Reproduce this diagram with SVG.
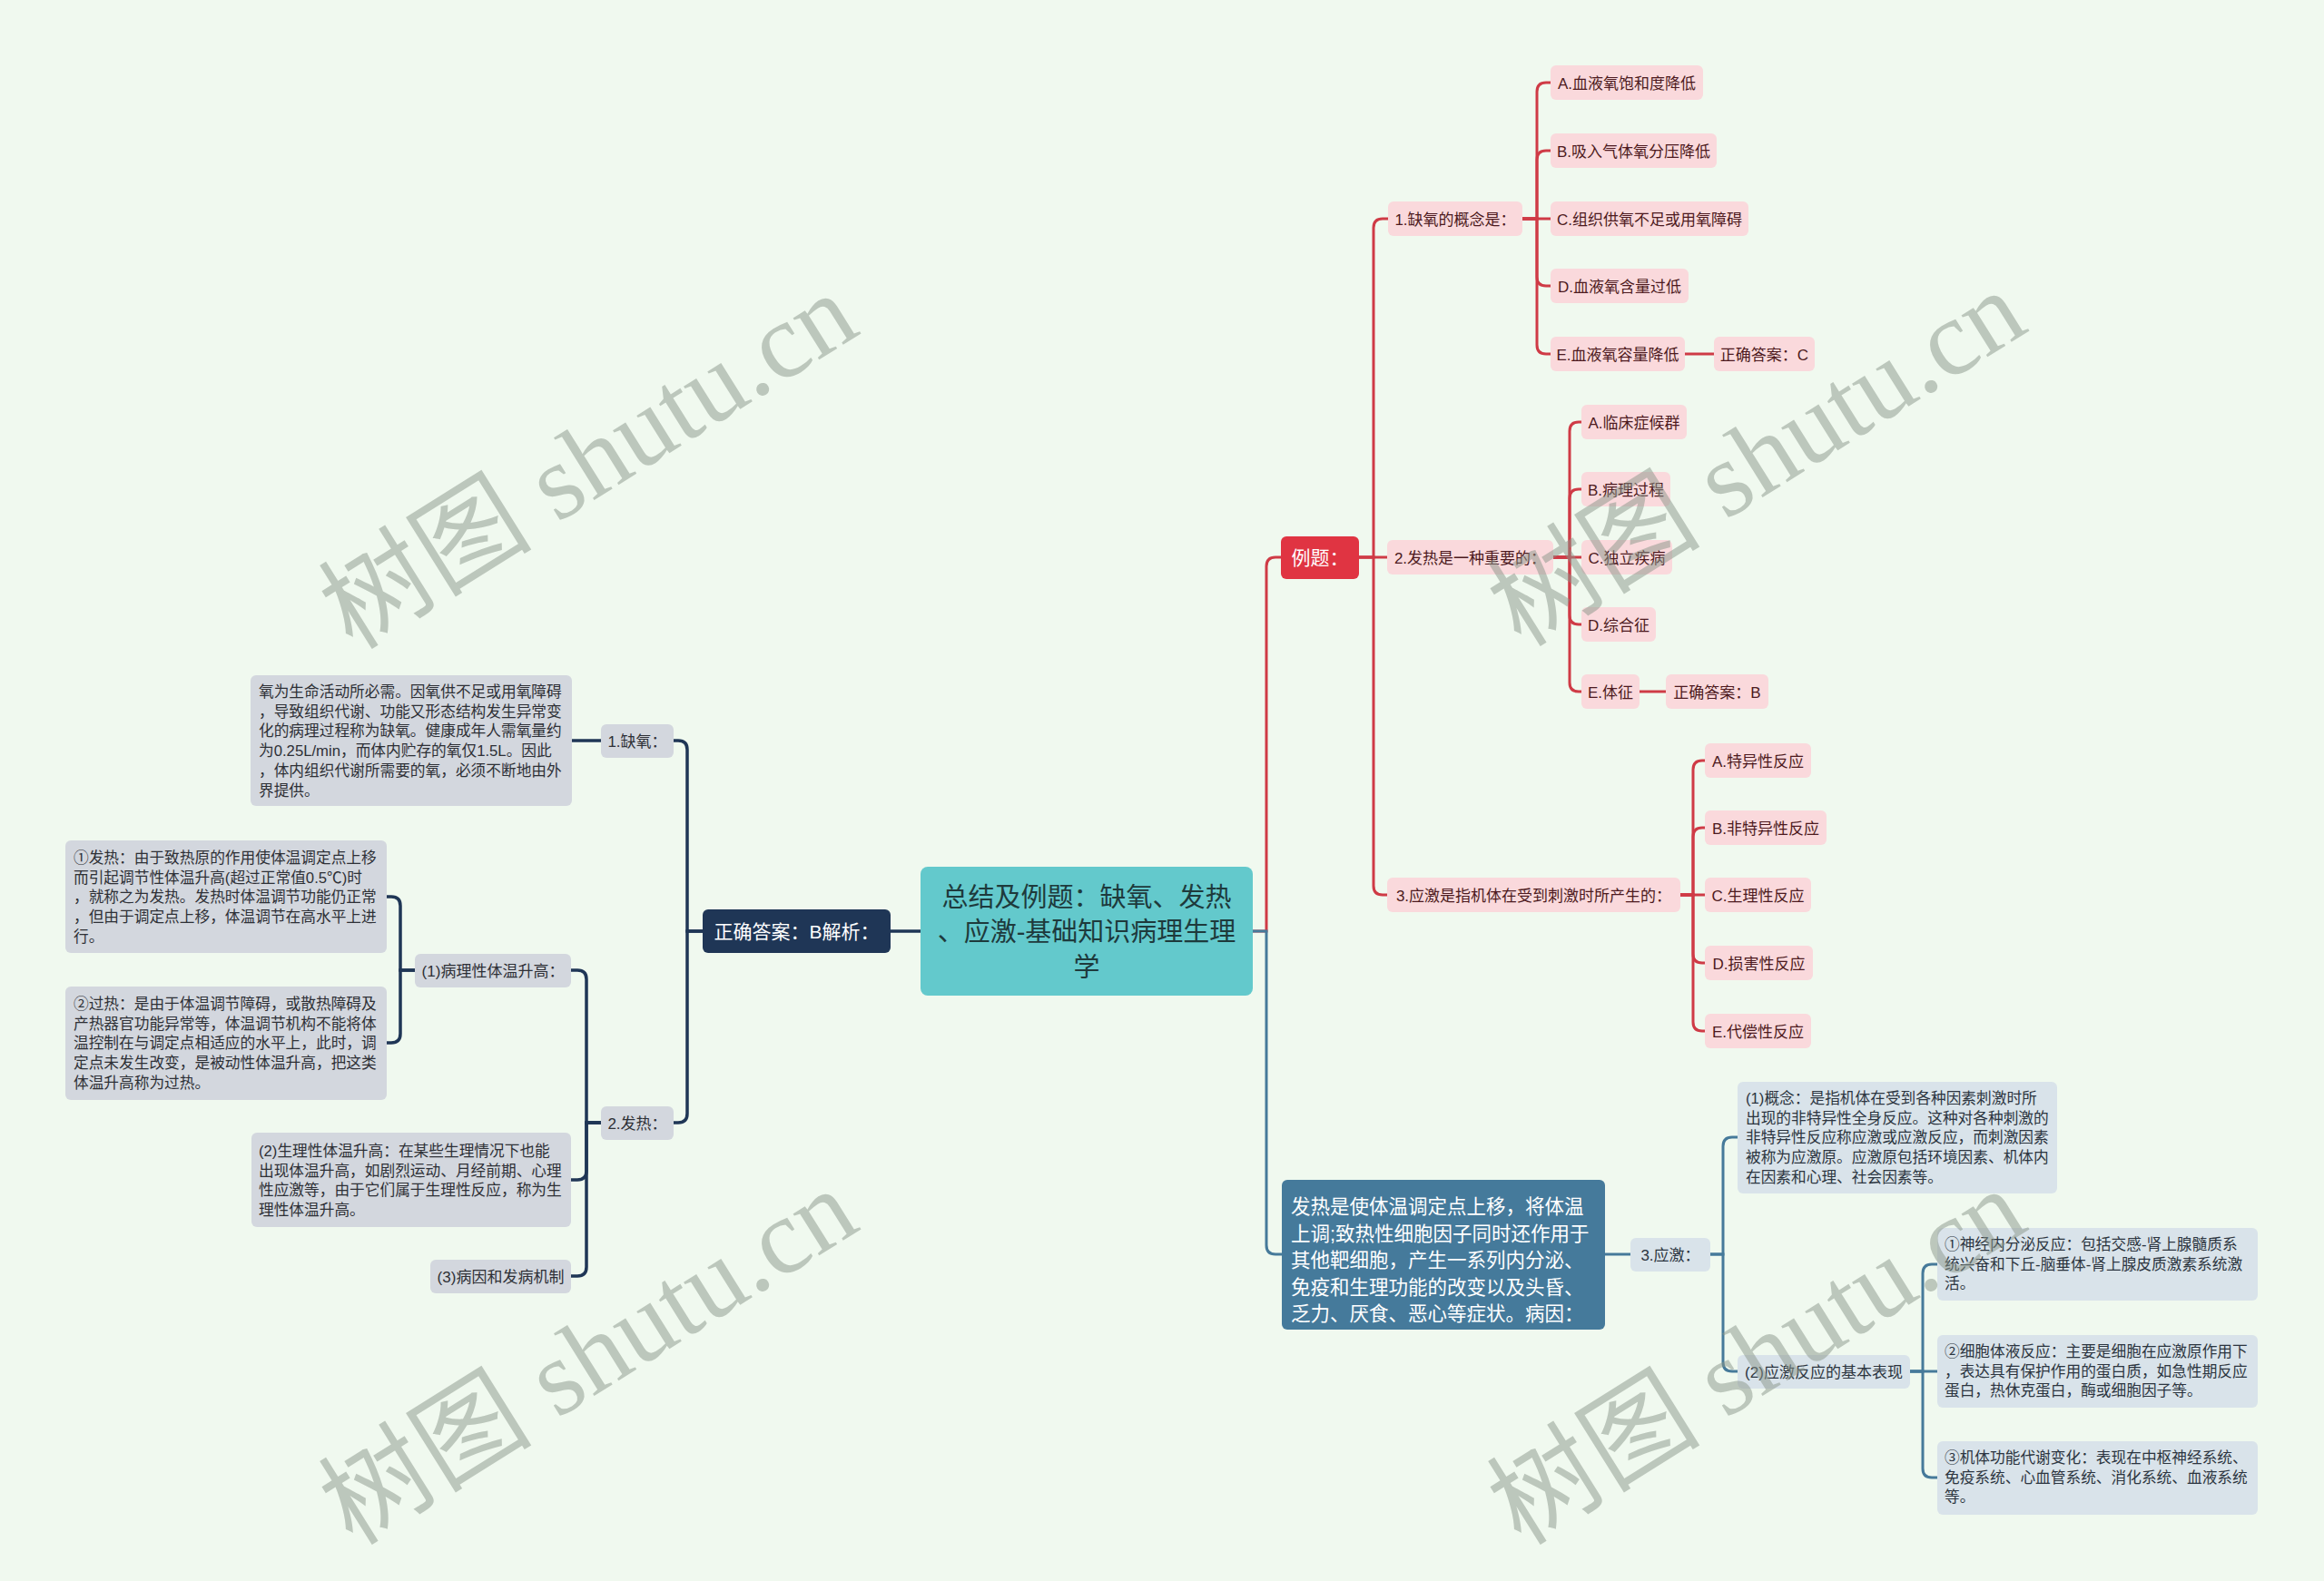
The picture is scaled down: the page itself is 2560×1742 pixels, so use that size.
<svg xmlns="http://www.w3.org/2000/svg" width="2560" height="1742" viewBox="0 0 2560 1742">
<style>
text{font-family:"Liberation Sans","Noto Sans CJK SC",sans-serif;}
.s{font-size:17px;text-anchor:middle;}
.m{font-size:16.7px;}
.pk rect{fill:#fad9dc;}
.pk text{fill:#4d1a20;}
.gy rect{fill:#d3d7de;}
.gy text{fill:#2e3036;}
.lb rect{fill:#d9e3ea;}
.lb text{fill:#2c3540;}
.cr{fill:none;stroke:#cf3b46;stroke-width:3;}
.cn{fill:none;stroke:#1f3656;stroke-width:3.5;}
.cb{fill:none;stroke:#467a9a;stroke-width:3;}
.wm{font-family:"Liberation Serif","Noto Sans CJK SC",serif;font-size:118px;fill:#8a968a;opacity:0.5;text-anchor:middle;}
</style>
<rect width="2560" height="1742" fill="#f0f9ef"/>

<g id="connectors">
<path class="cn" d="M1014,1026 H981"/>
<path class="cn" d="M774,1026 H757 V826 Q757,816 747,816 H742"/>
<path class="cn" d="M774,1026 H757 V1227 Q757,1237 747,1237 H742"/>
<path class="cn" d="M662,816 H630"/>
<path class="cn" d="M662,1237 H646 V1079 Q646,1069 636,1069 H629"/>
<path class="cn" d="M662,1237 H646 V1290 Q646,1300 636,1300 H629"/>
<path class="cn" d="M662,1237 H646 V1396 Q646,1406 636,1406 H629"/>
<path class="cn" d="M457,1069 H441 V998 Q441,988 431,988 H426"/>
<path class="cn" d="M457,1069 H441 V1139 Q441,1149 431,1149 H426"/>

<path class="cr" d="M1380,1026 H1395 V624 Q1395,614 1405,614 H1411"/>
<path class="cb" d="M1380,1026 H1395 V1372 Q1395,1382 1405,1382 H1412"/>

<path class="cr" d="M1497,614 H1513 V251 Q1513,241 1523,241 H1529"/>
<path class="cr" d="M1497,614 H1528"/>
<path class="cr" d="M1497,614 H1513 V976 Q1513,986 1523,986 H1528"/>

<path class="cr" d="M1677,241 H1693 V101 Q1693,91 1703,91 H1708"/>
<path class="cr" d="M1677,241 H1693 V176 Q1693,166 1703,166 H1708"/>
<path class="cr" d="M1677,241 H1708"/>
<path class="cr" d="M1677,241 H1693 V305 Q1693,315 1703,315 H1708"/>
<path class="cr" d="M1677,241 H1693 V380 Q1693,390 1703,390 H1708"/>
<path class="cr" d="M1856,390 H1888"/>

<path class="cr" d="M1711,614 H1729 V475 Q1729,465 1739,465 H1742"/>
<path class="cr" d="M1711,614 H1729 V549 Q1729,539 1739,539 H1742"/>
<path class="cr" d="M1711,614 H1742"/>
<path class="cr" d="M1711,614 H1729 V678 Q1729,688 1739,688 H1742"/>
<path class="cr" d="M1711,614 H1729 V752 Q1729,762 1739,762 H1742"/>
<path class="cr" d="M1806,762 H1835"/>

<path class="cr" d="M1851,986 H1865 V848 Q1865,838 1875,838 H1878"/>
<path class="cr" d="M1851,986 H1865 V922 Q1865,912 1875,912 H1878"/>
<path class="cr" d="M1851,986 H1878"/>
<path class="cr" d="M1851,986 H1865 V1051 Q1865,1061 1875,1061 H1878"/>
<path class="cr" d="M1851,986 H1865 V1126 Q1865,1136 1875,1136 H1878"/>

<path class="cb" d="M1768,1382 H1796"/>
<path class="cb" d="M1884,1382 H1898 V1263 Q1898,1253 1908,1253 H1914"/>
<path class="cb" d="M1884,1382 H1898 V1501 Q1898,1511 1908,1511 H1914"/>
<path class="cb" d="M2104,1511 H2118 V1403 Q2118,1393 2128,1393 H2134"/>
<path class="cb" d="M2104,1511 H2134"/>
<path class="cb" d="M2104,1511 H2118 V1618 Q2118,1628 2128,1628 H2134"/>
</g>

<g id="root">
<rect x="1014" y="955" width="366" height="142" rx="8" fill="#63c9cc"/>
<text x="1197" text-anchor="middle" font-size="29" fill="#1e3a3c"><tspan x="1197" y="998.5">总结及例题：缺氧、发热</tspan><tspan x="1197" y="1037">、应激-基础知识病理生理</tspan><tspan x="1197" y="1075.5">学</tspan></text>
</g>

<g id="n-answer-left">
<rect x="774" y="1002" width="207" height="48" rx="6" fill="#1f3656"/>
<text x="877.5" y="1033.5" text-anchor="middle" font-size="21" fill="#ffffff">正确答案：B解析：</text>
</g>
<g id="n-queyang" class="gy">
<rect x="662" y="798" width="80" height="37" rx="6"/>
<text class="s" x="702" y="822.5">1.缺氧：</text>
</g>
<g id="n-queyang-detail" class="gy">
<rect x="276" y="744" width="354" height="144" rx="6"/>
<text class="m" x="285"><tspan x="285" y="768">氧为生命活动所必需。因氧供不足或用氧障碍</tspan><tspan x="285" y="789.7">，导致组织代谢、功能又形态结构发生异常变</tspan><tspan x="285" y="811.4">化的病理过程称为缺氧。健康成年人需氧量约</tspan><tspan x="285" y="833.1">为0.25L/min，而体内贮存的氧仅1.5L。因此</tspan><tspan x="285" y="854.8">，体内组织代谢所需要的氧，必须不断地由外</tspan><tspan x="285" y="876.5">界提供。</tspan></text>
</g>
<g id="n-fare" class="gy">
<rect x="662" y="1219" width="80" height="37" rx="6"/>
<text class="s" x="702" y="1243.5">2.发热：</text>
</g>
<g id="n-bingli" class="gy">
<rect x="457" y="1051" width="172" height="37" rx="6"/>
<text class="s" x="543" y="1075.5">(1)病理性体温升高：</text>
</g>
<g id="n-fare1" class="gy">
<rect x="72" y="926" width="354" height="124" rx="6"/>
<text class="m" x="81"><tspan x="81" y="951">①发热：由于致热原的作用使体温调定点上移</tspan><tspan x="81" y="972.7">而引起调节性体温升高(超过正常值0.5℃)时</tspan><tspan x="81" y="994.4">，就称之为发热。发热时体温调节功能仍正常</tspan><tspan x="81" y="1016.1">，但由于调定点上移，体温调节在高水平上进</tspan><tspan x="81" y="1037.8">行。</tspan></text>
</g>
<g id="n-guore" class="gy">
<rect x="72" y="1087" width="354" height="125" rx="6"/>
<text class="m" x="81"><tspan x="81" y="1112">②过热：是由于体温调节障碍，或散热障碍及</tspan><tspan x="81" y="1133.7">产热器官功能异常等，体温调节机构不能将体</tspan><tspan x="81" y="1155.4">温控制在与调定点相适应的水平上，此时，调</tspan><tspan x="81" y="1177.1">定点未发生改变，是被动性体温升高，把这类</tspan><tspan x="81" y="1198.8">体温升高称为过热。</tspan></text>
</g>
<g id="n-shengli" class="gy">
<rect x="277" y="1248" width="352" height="104" rx="6"/>
<text class="m" x="285"><tspan x="285" y="1274">(2)生理性体温升高：在某些生理情况下也能</tspan><tspan x="285" y="1295.7">出现体温升高，如剧烈运动、月经前期、心理</tspan><tspan x="285" y="1317.4">性应激等，由于它们属于生理性反应，称为生</tspan><tspan x="285" y="1339.1">理性体温升高。</tspan></text>
</g>
<g id="n-bingyin" class="gy">
<rect x="474" y="1388" width="155" height="37" rx="6"/>
<text class="s" x="551.5" y="1412.5">(3)病因和发病机制</text>
</g>

<g id="n-liti">
<rect x="1411" y="591" width="86" height="47" rx="6" fill="#e03442"/>
<text x="1454" y="622" text-anchor="middle" font-size="21" fill="#ffffff">例题：</text>
</g>
<g id="n-q1" class="pk">
<rect x="1529" y="222" width="148" height="38" rx="6"/>
<text class="s" x="1603" y="247.5">1.缺氧的概念是：</text>
</g>
<g id="n-q1a" class="pk"><rect x="1708" y="72" width="168" height="38" rx="6"/><text class="s" x="1792" y="97.5">A.血液氧饱和度降低</text></g>
<g id="n-q1b" class="pk"><rect x="1708" y="147" width="183" height="38" rx="6"/><text class="s" x="1799.5" y="172.5">B.吸入气体氧分压降低</text></g>
<g id="n-q1c" class="pk"><rect x="1708" y="222" width="218" height="38" rx="6"/><text class="s" x="1817" y="247.5">C.组织供氧不足或用氧障碍</text></g>
<g id="n-q1d" class="pk"><rect x="1708" y="296" width="152" height="38" rx="6"/><text class="s" x="1784" y="321.5">D.血液氧含量过低</text></g>
<g id="n-q1e" class="pk"><rect x="1708" y="371" width="148" height="38" rx="6"/><text class="s" x="1782" y="396.5">E.血液氧容量降低</text></g>
<g id="n-q1ans" class="pk"><rect x="1888" y="371" width="111" height="38" rx="6"/><text class="s" x="1943.5" y="396.5">正确答案：C</text></g>

<g id="n-q2" class="pk">
<rect x="1528" y="595" width="183" height="38" rx="6"/>
<text class="s" x="1619.5" y="620.5">2.发热是一种重要的：</text>
</g>
<g id="n-q2a" class="pk"><rect x="1742" y="446" width="116" height="38" rx="6"/><text class="s" x="1800" y="471.5">A.临床症候群</text></g>
<g id="n-q2b" class="pk"><rect x="1742" y="520" width="98" height="38" rx="6"/><text class="s" x="1791" y="545.5">B.病理过程</text></g>
<g id="n-q2c" class="pk"><rect x="1742" y="595" width="100" height="38" rx="6"/><text class="s" x="1792" y="620.5">C.独立疾病</text></g>
<g id="n-q2d" class="pk"><rect x="1742" y="669" width="82" height="38" rx="6"/><text class="s" x="1783" y="694.5">D.综合征</text></g>
<g id="n-q2e" class="pk"><rect x="1742" y="743" width="64" height="38" rx="6"/><text class="s" x="1774" y="768.5">E.体征</text></g>
<g id="n-q2ans" class="pk"><rect x="1835" y="743" width="113" height="38" rx="6"/><text class="s" x="1891.5" y="768.5">正确答案：B</text></g>

<g id="n-q3" class="pk">
<rect x="1528" y="967" width="323" height="38" rx="6"/>
<text class="s" x="1689.5" y="992.5">3.应激是指机体在受到刺激时所产生的：</text>
</g>
<g id="n-q3a" class="pk"><rect x="1878" y="819" width="117" height="38" rx="6"/><text class="s" x="1936.5" y="844.5">A.特异性反应</text></g>
<g id="n-q3b" class="pk"><rect x="1878" y="893" width="134" height="38" rx="6"/><text class="s" x="1945" y="918.5">B.非特异性反应</text></g>
<g id="n-q3c" class="pk"><rect x="1878" y="967" width="117" height="38" rx="6"/><text class="s" x="1936.5" y="992.5">C.生理性反应</text></g>
<g id="n-q3d" class="pk"><rect x="1878" y="1042" width="119" height="38" rx="6"/><text class="s" x="1937.5" y="1067.5">D.损害性反应</text></g>
<g id="n-q3e" class="pk"><rect x="1878" y="1117" width="117" height="38" rx="6"/><text class="s" x="1936.5" y="1142.5">E.代偿性反应</text></g>

<g id="n-blue">
<rect x="1412" y="1300" width="356" height="165" rx="6" fill="#457a9b"/>
<text x="1422" font-size="21.5" fill="#ffffff"><tspan x="1422" y="1337">发热是使体温调定点上移，将体温</tspan><tspan x="1422" y="1366.5">上调;致热性细胞因子同时还作用于</tspan><tspan x="1422" y="1396">其他靶细胞，产生一系列内分泌、</tspan><tspan x="1422" y="1425.5">免疫和生理功能的改变以及头昏、</tspan><tspan x="1422" y="1455">乏力、厌食、恶心等症状。病因：</tspan></text>
</g>
<g id="n-yingji" class="lb">
<rect x="1796" y="1364" width="88" height="37" rx="6"/>
<text class="s" x="1840" y="1388.5">3.应激：</text>
</g>
<g id="n-gainian" class="lb">
<rect x="1914" y="1192" width="352" height="123" rx="6"/>
<text class="m" x="1923"><tspan x="1923" y="1216">(1)概念：是指机体在受到各种因素刺激时所</tspan><tspan x="1923" y="1237.7">出现的非特异性全身反应。这种对各种刺激的</tspan><tspan x="1923" y="1259.4">非特异性反应称应激或应激反应，而刺激因素</tspan><tspan x="1923" y="1281.1">被称为应激原。应激原包括环境因素、机体内</tspan><tspan x="1923" y="1302.8">在因素和心理、社会因素等。</tspan></text>
</g>
<g id="n-biaoxian" class="lb">
<rect x="1914" y="1493" width="190" height="37" rx="6"/>
<text class="s" x="2009" y="1517.5">(2)应激反应的基本表现</text>
</g>
<g id="n-b1" class="lb">
<rect x="2134" y="1353" width="353" height="80" rx="6"/>
<text class="m" x="2142"><tspan x="2142" y="1377">①神经内分泌反应：包括交感-肾上腺髓质系</tspan><tspan x="2142" y="1398.7">统兴奋和下丘-脑垂体-肾上腺皮质激素系统激</tspan><tspan x="2142" y="1420.4">活。</tspan></text>
</g>
<g id="n-b2" class="lb">
<rect x="2134" y="1471" width="353" height="80" rx="6"/>
<text class="m" x="2142"><tspan x="2142" y="1495">②细胞体液反应：主要是细胞在应激原作用下</tspan><tspan x="2142" y="1516.7">，表达具有保护作用的蛋白质，如急性期反应</tspan><tspan x="2142" y="1538.4">蛋白，热休克蛋白，酶或细胞因子等。</tspan></text>
</g>
<g id="n-b3" class="lb">
<rect x="2134" y="1588" width="353" height="81" rx="6"/>
<text class="m" x="2142"><tspan x="2142" y="1612">③机体功能代谢变化：表现在中枢神经系统、</tspan><tspan x="2142" y="1633.7">免疫系统、心血管系统、消化系统、血液系统</tspan><tspan x="2142" y="1655.4">等。</tspan></text>
</g>

<g id="watermarks">
<text class="wm" transform="translate(648,508) rotate(-32)" y="40">树图 shutu.cn</text>
<text class="wm" transform="translate(1935,505) rotate(-32)" y="40">树图 shutu.cn</text>
<text class="wm" transform="translate(648,1495) rotate(-32)" y="40">树图 shutu.cn</text>
<text class="wm" transform="translate(1935,1495) rotate(-32)" y="40">树图 shutu.cn</text>
</g>
</svg>
